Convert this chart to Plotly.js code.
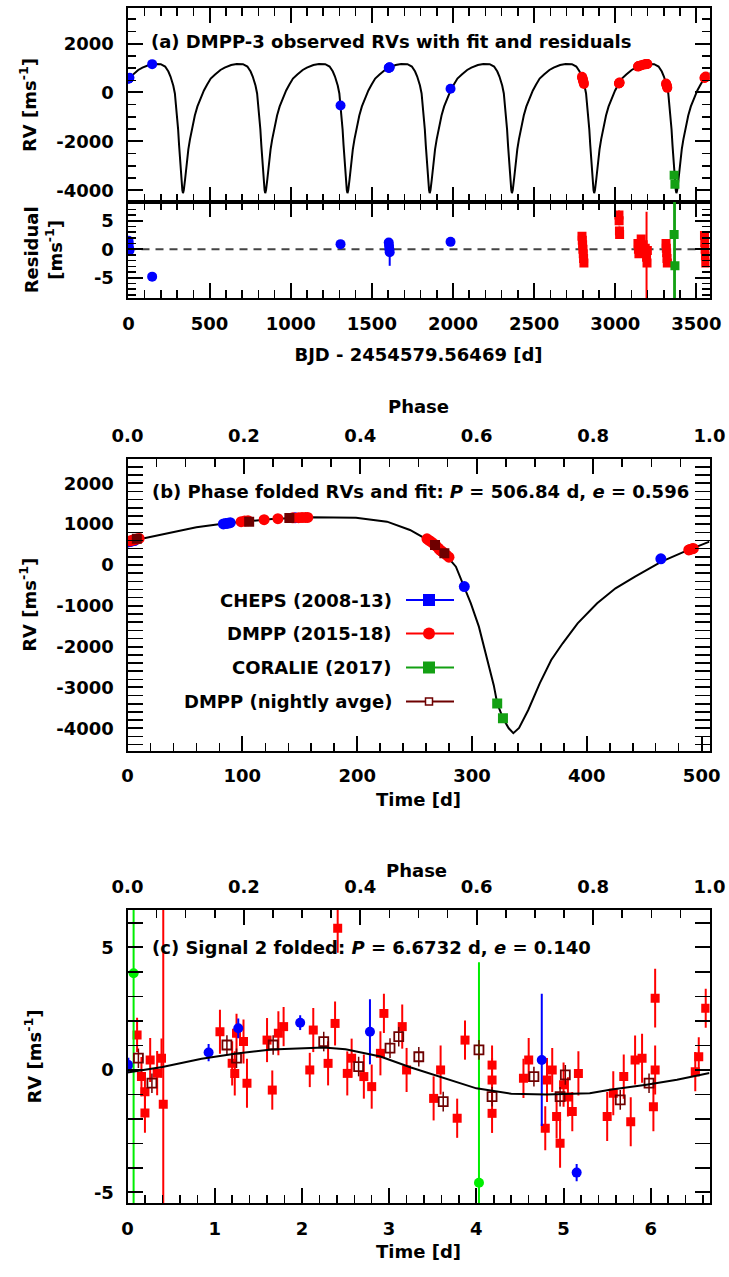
<!DOCTYPE html>
<html><head><meta charset="utf-8">
<script src="https://cdn.plot.ly/plotly-3.0.1.min.js"></script>
<style>html,body{margin:0;padding:0;background:#fff}#chart{width:729px;height:1277px}</style>
</head><body><div id="chart"></div>
<script>
// ---------- data ----------
const PERIOD_B = 506.84;   // d, outer planet
const PERIOD_C = 6.6732;   // d, signal 2

// Fit curve: time in phase [d] and RV [m/s]
const curveT  = [0, 27, 60, 86, 126, 160, 199, 226, 246, 259, 276, 286, 292, 299, 306, 312, 319, 322, 327, 332, 336, 341, 349, 359, 369, 379, 392, 409, 425, 442, 465, 485, 506.84];
const curveRV = [571, 735, 922, 1020, 1127, 1167, 1159, 1061, 857, 653, 286, -41, -449, -939, -1510, -2163, -2950, -3390, -3755, -4000, -4120, -3990, -3551, -2898, -2327, -1918, -1429, -939, -571, -286, 82, 327, 571];

// CHEPS (2008-13): time BJD-2454579.56469 [d], RV, residual, residual error
const chepsT      = [0.5, 2, 4, 6, 146, 1307, 1604, 1606, 1608, 1610, 1985];
const chepsRV     = [565, 575, 590, 600, 1160, -530, 1005, 1015, 1025, 1035, 150];
const chepsRes    = [1.5, 1.0, 0.2, -0.2, -4.8, 0.9, 1.2, 0.6, 0.0, -0.5, 1.3];
const chepsResErr = [0.5, 0.5, 0.5, 0.5, 0.5, 0.4, 0.6, 0.6, 0.6, 2.4, 0.5];

// DMPP (2015-18)
const dmppT      = [2795, 2797, 2799, 2801, 2803, 2805, 2807, 3023, 3024, 3026, 3027, 3140, 3143, 3146, 3160, 3172, 3185, 3190, 3193, 3196, 3198, 3313, 3315, 3317, 3319, 3321, 3550, 3552, 3554, 3556, 3558];
const dmppRV     = [640, 600, 560, 515, 465, 410, 350, 370, 380, 395, 405, 1060, 1075, 1085, 1110, 1135, 1155, 1160, 1163, 1165, 1166, 370, 330, 290, 240, 190, 590, 605, 620, 635, 650];
const dmppRes    = [2.3, 1.6, 0.8, 0.0, -0.8, -1.6, -2.4, 6.0, 5.0, 3.2, 2.6, 1.0, 0.0, -0.8, 1.8, 0.8, 0.2, -0.5, -1.4, -2.4, -0.2, 1.0, 0.2, -0.6, -1.6, -2.4, 2.4, 1.2, 0.0, -1.2, -2.4];
const dmppResErr = [0.6, 0.6, 0.6, 0.6, 0.6, 0.6, 0.6, 0.8, 0.8, 0.8, 0.8, 0.7, 0.7, 0.7, 0.7, 0.7, 0.7, 0.7, 8.0, 0.7, 0.7, 0.7, 0.7, 0.7, 0.7, 0.7, 0.6, 0.6, 0.6, 0.6, 0.6];

// CORALIE (2017)
const coralieT      = [3363, 3368];
const coralieRV     = [-3390, -3755];
const coralieRes    = [2.6, -2.9];
const coralieResErr = [12, 12];

// DMPP nightly averages
const nightlyT  = [3556, 3147, 3182, 2802, 3317];
const nightlyRV = [640, 1060, 1150, 490, 286];

// Panel (c): signal 2 folded, time in phase [d], RV [m/s], error
const sChepsT = [0.01, 0.93, 1.27, 1.98, 2.78, 4.75, 5.15];
const sChepsV = [0.2, 0.71, 1.70, 1.93, 1.56, 0.41, -4.19];
const sChepsE = [0.3, 0.35, 0.4, 0.3, 1.33, 2.7, 0.35];

const sDmppT = [0.11, 0.16, 0.2, 0.2, 0.26, 0.34, 0.39, 0.41, 1.06, 1.2, 1.23, 1.25, 1.33, 1.37, 1.6, 1.66, 1.73, 1.79, 2.09, 2.13, 2.3, 2.38, 2.41, 2.52, 2.57, 2.71, 2.8, 2.9, 2.94, 3.15, 3.2, 3.51, 3.59, 3.78, 3.87, 4.18, 4.18, 4.18, 4.54, 4.6, 4.79, 4.81, 4.87, 4.92, 4.96, 5.0, 5.05, 5.1, 5.17, 5.5, 5.57, 5.69, 5.77, 5.82, 5.9, 6.03, 6.05, 6.05, 6.51, 6.55, 6.63];
const sDmppV = [1.43, -0.27, -0.89, -1.76, 0.41, -0.13, 0.48, -1.4, 1.56, 0.27, -0.14, 1.5, 1.16, -0.54, 1.22, -0.82, 1.5, 1.77, 0.0, 1.63, 0.27, 1.9, 5.78, -0.14, 0.48, -0.27, -0.68, 0.68, 2.31, 1.77, 0.0, -1.16, 0.0, -1.97, 1.22, 0.2, -0.41, -1.77, -0.34, 0.41, -2.38, -0.41, 0.0, -1.9, -2.99, -0.6, -1.1, -1.7, -0.14, -1.9, -0.95, -0.27, -2.11, 0.41, 0.48, -1.5, 0.0, 2.93, -0.07, 0.54, 2.52];
const sDmppE = [0.7, 0.8, 0.8, 0.8, 0.9, 0.9, 0.8, 8.0, 0.9, 0.9, 0.9, 0.8, 0.9, 1.0, 0.9, 0.8, 0.9, 0.8, 0.7, 0.9, 0.9, 0.9, 1.0, 0.9, 0.8, 0.9, 0.9, 0.9, 0.8, 0.9, 0.9, 0.9, 1.0, 0.8, 0.8, 0.8, 0.9, 0.8, 0.8, 0.9, 0.9, 0.9, 0.9, 0.9, 1.0, 0.9, 0.8, 0.8, 0.9, 1.0, 0.9, 0.9, 1.0, 1.0, 1.0, 1.0, 1.0, 1.2, 0.8, 0.8, 0.8];

const sCoralieT = [0.07, 4.03];
const sCoralieV = [3.95, -4.6];
const sCoralieE = [12, 9];

const sNightlyT = [0.125, 0.28, 1.14, 1.25, 1.67, 2.25, 2.65, 3.01, 3.11, 3.34, 3.62, 4.03, 4.18, 4.66, 4.96, 5.02, 5.65, 5.98];
const sNightlyV = [0.48, -0.54, 1.02, 0.48, 1.02, 1.16, 0.14, 0.89, 1.36, 0.54, -1.29, 0.82, -1.09, -0.27, -1.09, -0.2, -1.22, -0.54];
const sNightlyE = [0.4, 0.4, 0.4, 0.4, 0.4, 0.4, 0.4, 0.4, 0.4, 0.4, 0.4, 0.4, 0.4, 0.4, 0.4, 0.4, 0.4, 0.4];

// Signal-2 fit curve
const sCurveT = [0, 0.4, 0.85, 1.25, 1.65, 2.0, 2.25, 2.5, 2.9, 3.25, 3.65, 4.0, 4.4, 4.8, 5.3, 5.55, 5.95, 6.3, 6.6732];
const sCurveV = [-0.1, 0.12, 0.46, 0.67, 0.84, 0.9, 0.92, 0.85, 0.55, 0.1, -0.35, -0.75, -0.97, -1.0, -0.95, -0.8, -0.6, -0.4, -0.12];

// tick labels
const rvTickVals = [-4000, -2000, 0, 2000];
const rvTickText = ['-4000', '-2000', '0', '2000'];
const resTickVals = [-5, 0, 5];
const resTickText = ['-5', '0', '5'];
const rvbTickVals = [-4000, -3000, -2000, -1000, 0, 1000, 2000];
const rvbTickText = ['-4000', '-3000', '-2000', '-1000', '0', '1000', '2000'];
const legendNames = ['CHEPS (2008-13)', 'DMPP (2015-18)', 'CORALIE (2017)', 'DMPP (nightly avge)'];

// ---------- styling ----------
const W = 729, H = 1277;
const FONT = 'DejaVu Sans, Liberation Sans, Arial, sans-serif';
const FS = 18;
const F = {family: FONT, size: FS, color: '#000', weight: 'bold'};
const BLUE = '#0000ff', RED = '#ff0000', GREEN = '#13a013', LIME = '#00ee00', BROWN = '#6e0000';
const px = x => x / W;
const py = y => 1 - y / H;
const dom = (top, bottom) => [py(bottom), py(top)];
const XDOM = [px(127.5), px(709.5)];

const fold = (arr, P) => arr.map(t => t - Math.floor(t / P) * P);

function ax(extra) {
  return Object.assign({
    showline: true, linecolor: '#000', linewidth: 2, mirror: 'allticks',
    ticks: 'inside', ticklen: 15, tickwidth: 2, tickcolor: '#000',
    showgrid: false, zeroline: false, fixedrange: true,
    tickfont: F,
    ticklabelstandoff: 8
  }, extra);
}
function minor(dtick, tick0) {
  return {ticks: 'inside', ticklen: 8, tickwidth: 1.5, tickcolor: '#000', dtick: dtick, tick0: tick0 || 0, tickmode: 'linear', showgrid: false};
}
const ttl = (text, standoff) => ({text: text, font: F, standoff: standoff});
const err = (arr, color, w) => ({type: 'data', array: arr, visible: true, color: color, thickness: w || 2, width: 0});

// ---------- curve tiling for panel (a) ----------
const tileX = [], tileY = [];
for (let k = -1; k <= 7; k++) {
  curveT.forEach((t, i) => { tileX.push(t + k * PERIOD_B); tileY.push(curveRV[i]); });
}

const traces = [
  // panel (a)
  {x: tileX, y: tileY, xaxis: 'x', yaxis: 'y', mode: 'lines', line: {color: '#000', width: 2}},
  {x: chepsT, y: chepsRV, xaxis: 'x', yaxis: 'y', mode: 'markers', marker: {symbol: 'circle', size: 10, color: BLUE}},
  {x: dmppT, y: dmppRV, xaxis: 'x', yaxis: 'y', mode: 'markers', marker: {symbol: 'circle', size: 10, color: RED}},
  {x: coralieT, y: coralieRV, xaxis: 'x', yaxis: 'y', mode: 'markers', marker: {symbol: 'square', size: 9, color: GREEN}},
  // residuals
  {x: chepsT, y: chepsRes, error_y: err(chepsResErr, BLUE), xaxis: 'x2', yaxis: 'y2', mode: 'markers', marker: {symbol: 'circle', size: 10, color: BLUE}},
  {x: dmppT, y: dmppRes, error_y: err(dmppResErr, RED), xaxis: 'x2', yaxis: 'y2', mode: 'markers', marker: {symbol: 'square', size: 9, color: RED}},
  {x: coralieT, y: coralieRes, error_y: err(coralieResErr, GREEN), xaxis: 'x2', yaxis: 'y2', mode: 'markers', marker: {symbol: 'square', size: 9, color: GREEN}},
  // panel (b)
  {x: curveT, y: curveRV, xaxis: 'x3', yaxis: 'y3', mode: 'lines', line: {color: '#000', width: 2}},
  {x: fold(chepsT, PERIOD_B), y: chepsRV, xaxis: 'x3', yaxis: 'y3', mode: 'markers', marker: {symbol: 'circle', size: 11, color: BLUE}},
  {x: fold(dmppT, PERIOD_B), y: dmppRV, xaxis: 'x3', yaxis: 'y3', mode: 'markers', marker: {symbol: 'circle', size: 11, color: RED}},
  {x: fold(coralieT, PERIOD_B), y: coralieRV, xaxis: 'x3', yaxis: 'y3', mode: 'markers', marker: {symbol: 'square', size: 10, color: GREEN}},
  {x: fold(nightlyT, PERIOD_B), y: nightlyRV, xaxis: 'x3', yaxis: 'y3', mode: 'markers', marker: {symbol: 'square', size: 10, color: BROWN}},
  {x: [], y: [], xaxis: 'x4', yaxis: 'y3', mode: 'markers', hoverinfo: 'skip'},
  // panel (c)
  {x: sDmppT, y: sDmppV, error_y: err(sDmppE, RED), xaxis: 'x5', yaxis: 'y5', mode: 'markers', marker: {symbol: 'square', size: 9, color: RED}},
  {x: sChepsT, y: sChepsV, error_y: err(sChepsE, BLUE), xaxis: 'x5', yaxis: 'y5', mode: 'markers', marker: {symbol: 'circle', size: 10, color: BLUE}},
  {x: sCoralieT, y: sCoralieV, error_y: err(sCoralieE, LIME), xaxis: 'x5', yaxis: 'y5', mode: 'markers', marker: {symbol: 'circle', size: 10, color: LIME}},
  {x: sNightlyT, y: sNightlyV, error_y: err(sNightlyE, BROWN, 1.5), xaxis: 'x5', yaxis: 'y5', mode: 'markers', marker: {symbol: 'square-open', size: 9, color: BROWN, line: {width: 1.8, color: BROWN}}},
  {x: sCurveT, y: sCurveV, xaxis: 'x5', yaxis: 'y5', mode: 'lines', line: {color: '#000', width: 2}},
  {x: [], y: [], xaxis: 'x6', yaxis: 'y5', mode: 'markers', hoverinfo: 'skip'}
];

// ---------- legend (text left of symbol, as in the original) ----------
const legRows = [600, 633.5, 667.5, 701.5];
const legColors = [BLUE, RED, GREEN, BROWN];
const shapes = [
  {type: 'line', xref: 'x2 domain', x0: 0, x1: 1, yref: 'y2', y0: 0, y1: 0, line: {color: '#444', width: 2, dash: '8px,6px'}, layer: 'below'}
];
const annotations = [
  {xref: 'paper', yref: 'paper', x: px(149), y: py(41.7), xanchor: 'left', yanchor: 'middle', showarrow: false,
   text: '(a) DMPP-3 observed RVs with fit and residuals', font: F},
  {xref: 'paper', yref: 'paper', x: px(150), y: py(491.7), xanchor: 'left', yanchor: 'middle', showarrow: false,
   text: '(b) Phase folded RVs and fit: <i>P</i> = 506.84 d, <i>e</i> = 0.596', font: F},
  {xref: 'paper', yref: 'paper', x: px(150), y: py(947), xanchor: 'left', yanchor: 'middle', showarrow: false,
   text: '(c) Signal 2 folded: <i>P</i> = 6.6732 d, <i>e</i> = 0.140', font: F},
  {xref: 'paper', yref: 'paper', x: px(417), y: py(870), xanchor: 'center', yanchor: 'middle', showarrow: false,
   text: 'Phase', font: F}
];
legRows.forEach((yr, i) => {
  annotations.push({xref: 'paper', yref: 'paper', x: px(394), y: py(yr), xanchor: 'right', yanchor: 'middle', showarrow: false,
    text: legendNames[i], font: F});
  shapes.push({type: 'line', xref: 'paper', yref: 'paper', x0: px(406), x1: px(454), y0: py(yr), y1: py(yr), line: {color: legColors[i], width: 2}});
  const s = i === 3 ? 3.5 : 6;
  shapes.push({type: i === 1 ? 'circle' : 'rect', xref: 'paper', yref: 'paper',
    x0: px(429 - s), x1: px(429 + s), y0: py(yr + s), y1: py(yr - s),
    fillcolor: i === 3 ? '#fff' : legColors[i], line: {color: legColors[i], width: i === 3 ? 1.5 : 0}});
});

const layout = {
  width: W, height: H,
  margin: {l: 0, r: 0, t: 0, b: 0},
  paper_bgcolor: '#fff', plot_bgcolor: '#fff',
  showlegend: false,
  font: F,
  // panel (a)
  xaxis: ax({domain: XDOM, anchor: 'y', range: [-6, 3581], dtick: 500, tick0: 0, showticklabels: false, minor: minor(100)}),
  yaxis: ax({domain: dom(8.3, 201.7), anchor: 'x', range: [-4470, 3446], tickmode: 'array', tickvals: rvTickVals, ticktext: rvTickText,
             minor: minor(500), title: ttl('RV [ms<sup>-1</sup>]', 15)}),
  xaxis2: ax({domain: XDOM, anchor: 'y2', range: [-6, 3581], dtick: 500, tick0: 0, minor: minor(100),
              title: ttl('BJD - 2454579.56469 [d]', 16)}),
  yaxis2: ax({domain: dom(201.7, 298), anchor: 'x2', range: [-8.55, 8.35], tickmode: 'array', tickvals: resTickVals, ticktext: resTickText,
              minor: minor(1), title: ttl('Residual<br>[ms<sup>-1</sup>]', 27)}),
  // panel (b)
  xaxis3: ax({domain: XDOM, anchor: 'y3', range: [0, PERIOD_B], dtick: 100, tick0: 0, mirror: true, minor: minor(20),
              title: ttl('Time [d]', 8)}),
  xaxis4: ax({domain: XDOM, anchor: 'y3', overlaying: 'x3', side: 'top', range: [0, 1], dtick: 0.2, tick0: 0, tickformat: '.1f', mirror: false,
              minor: minor(0.05), title: ttl('Phase', 6)}),
  yaxis3: ax({domain: dom(459, 750.7), anchor: 'x3', range: [-4549, 2596], tickmode: 'array', tickvals: rvbTickVals, ticktext: rvbTickText,
              minor: minor(200), title: ttl('RV [ms<sup>-1</sup>]', 15)}),
  // panel (c)
  xaxis5: ax({domain: XDOM, anchor: 'y5', range: [0, PERIOD_C], dtick: 1, tick0: 0, mirror: true, minor: minor(0.2),
              title: ttl('Time [d]', 8)}),
  xaxis6: ax({domain: XDOM, anchor: 'y5', overlaying: 'x5', side: 'top', range: [0, 1], dtick: 0.2, tick0: 0, tickformat: '.1f', mirror: false,
              minor: minor(0.05)}),
  yaxis5: ax({domain: dom(910, 1203), anchor: 'x5', range: [-5.43, 6.53], tickmode: 'array', tickvals: resTickVals, ticktext: resTickText,
              minor: minor(1), title: ttl('RV [ms<sup>-1</sup>]', 48)}),
  shapes: shapes,
  annotations: annotations
};

Plotly.newPlot('chart', traces, layout, {staticPlot: true, displayModeBar: false});
</script>
</body></html>
